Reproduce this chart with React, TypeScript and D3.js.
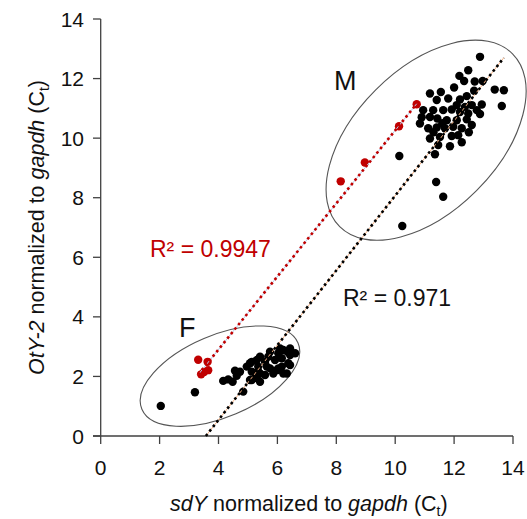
import React from "react";
import * as d3 from "d3";

// ---------- data ----------
const maleBlack: [number, number][] = [
  [12.88, 12.73], [12.48, 12.28], [12.18, 12.09], [12.34, 11.92], [12.97, 11.92],
  [13.38, 11.63], [13.69, 11.61], [13.62, 11.08], [12.68, 11.59], [12.94, 11.13],
  [12.43, 11.41], [11.18, 11.5], [11.55, 11.55], [11.41, 11.28], [11.8, 11.33],
  [12.09, 11.11], [12.37, 11.05], [12.6, 11.11], [12.77, 10.94], [12.88, 10.81],
  [10.95, 10.94], [11.29, 10.94], [11.63, 10.94], [11.92, 10.96], [12.2, 10.88],
  [12.48, 10.83], [10.84, 10.49], [11.18, 10.71], [11.43, 10.66], [11.75, 10.6],
  [12.09, 10.6], [12.43, 10.63], [12.6, 10.44], [11.12, 10.33], [11.41, 10.36],
  [11.69, 10.33], [11.97, 10.38], [12.26, 10.33], [11.18, 9.99], [11.52, 10.04],
  [11.92, 10.07], [12.14, 10.1], [11.46, 9.77], [11.86, 9.73], [12.26, 9.86],
  [11.35, 9.46], [10.14, 9.4], [11.39, 8.53], [11.63, 8.03], [10.24, 7.05],
  [12.0, 11.7], [11.3, 10.2], [12.7, 11.9], [11.6, 10.5], [12.2, 11.3],
  [10.9, 10.7], [12.5, 10.2],
];
const femaleBlack: [number, number][] = [
  [2.04, 1.01], [3.2, 1.47], [4.84, 1.49],
  [4.16, 1.85], [4.33, 1.9], [4.48, 1.82], [4.62, 2.02], [4.56, 2.19], [4.73, 2.16],
  [4.96, 2.33], [5.07, 2.44], [5.13, 2.16], [5.3, 2.55], [5.41, 2.66], [5.35, 2.33],
  [5.41, 2.1], [5.58, 2.49], [5.69, 2.66], [5.75, 2.27], [5.58, 2.05], [5.92, 2.55],
  [6.03, 2.78], [6.2, 2.89], [6.34, 2.83], [6.15, 2.61], [6.15, 2.33], [5.98, 2.21],
  [6.37, 2.44], [6.32, 2.1], [5.13, 1.88], [5.3, 1.94], [5.86, 2.1], [6.43, 2.72],
  [6.43, 2.94], [6.6, 2.78], [6.43, 2.38], [6.2, 2.1], [5.41, 1.82], [5.07, 1.88],
  [5.13, 2.49], [5.75, 2.83], [6.09, 2.94], [5.64, 2.33], [6.03, 2.27], [5.35, 2.16],
];
const redPoints: [number, number][] = [
  [3.31, 2.56], [3.63, 2.49], [3.65, 2.21], [3.41, 2.07], [3.51, 2.15],
  [8.15, 8.55], [8.97, 9.18], [10.13, 10.4], [10.73, 11.14],
];
// trendlines: slope, intercept
const redFit = { slope: 1.226, intercept: -2.0 };
const blackFit = { slope: 1.255, intercept: -4.48 };
const redR2 = "R² = 0.9947";
const blackR2 = "R² = 0.971";
// group ellipses (data units): centre, semi-axes, angle in degrees
const ellipses = [
  { label: "M", cx: 11.05, cy: 9.93, a: 4.15, b: 2.42, angle: 45 },
  { label: "F", cx: 4.05, cy: 2.01, a: 2.88, b: 1.39, angle: 23 },
];
const xTicks = [0, 2, 4, 6, 8, 10, 12, 14];
const yTicks = [0, 2, 4, 6, 8, 10, 12, 14];

const FONT = "'Liberation Sans', Arial, sans-serif";

export default function App() {
  const W = 527, H = 519;
  const x = d3.scaleLinear().domain([0, 14]).range([100.7, 513]);
  const y = d3.scaleLinear().domain([0, 14]).range([436, 19]);
  const kx = x(1) - x(0);

  const allBlack = [...maleBlack, ...femaleBlack];
  const bxMin = d3.min(allBlack, (d) => d[0])!;
  const bxMax = d3.max(allBlack, (d) => d[0])!;
  const bStart = Math.max(bxMin, -blackFit.intercept / blackFit.slope);
  const blackLine = d3.line<number>()
    .x((v) => x(v))
    .y((v) => y(blackFit.slope * v + blackFit.intercept))([bStart, bxMax]);
  const rxMin = d3.min(redPoints, (d) => d[0])!;
  const rxMax = d3.max(redPoints, (d) => d[0])!;
  const redLine = d3.line<number>()
    .x((v) => x(v))
    .y((v) => y(redFit.slope * v + redFit.intercept))([rxMin, rxMax]);

  const axisColor = "#404040";
  return (
    <svg width={W} height={H} style={{ position: "absolute", left: 0, top: 0, background: "#fff" }}
      fontFamily={FONT}>
      {/* axes */}
      <line x1={93} x2={x(14)} y1={y(0)} y2={y(0)} stroke={axisColor} strokeWidth={1.3} />
      <line x1={x(0)} x2={x(0)} y1={y(14)} y2={y(0)} stroke={axisColor} strokeWidth={1.3} />
      {yTicks.map((t) => (
        <g key={"y" + t}>
          <line x1={93} x2={x(0)} y1={y(t)} y2={y(t)} stroke={axisColor} strokeWidth={1.3} />
          <text x={84} y={y(t)} dy="0.36em" textAnchor="end" fontSize={21} fill="#111">{t}</text>
        </g>
      ))}
      {xTicks.map((t) => (
        <g key={"x" + t}>
          <line x1={x(t)} x2={x(t)} y1={y(0)} y2={y(0) + 8} stroke={axisColor} strokeWidth={1.3} />
          <text x={x(t)} y={475} textAnchor="middle" fontSize={21} fill="#111">{t}</text>
        </g>
      ))}
      {/* axis titles */}
      <text x={(x(0) + x(14)) / 2 + 2} y={511} textAnchor="middle" fontSize={21.5} fill="#111">
        <tspan fontStyle="italic">sdY</tspan> normalized to <tspan fontStyle="italic">gapdh</tspan> (C
        <tspan fontSize={14} dy={5}>t</tspan><tspan dy={-5}>)</tspan>
      </text>
      <text transform={`translate(44,${(y(0) + y(14)) / 2}) rotate(-90)`} textAnchor="middle" fontSize={21.5} fill="#111">
        <tspan fontStyle="italic">OtY-2</tspan> normalized to <tspan fontStyle="italic">gapdh</tspan> (C
        <tspan fontSize={14} dy={5}>t</tspan><tspan dy={-5}>)</tspan>
      </text>

      {/* ellipses */}
      {ellipses.map((e) => (
        <ellipse key={e.label} cx={0} cy={0} rx={e.a * kx} ry={e.b * kx}
          transform={`translate(${x(e.cx)},${y(e.cy)}) rotate(${-e.angle})`}
          fill="none" stroke="#555" strokeWidth={1.1} />
      ))}

      {/* points */}
      {allBlack.map((d, i) => (
        <circle key={"b" + i} cx={x(d[0])} cy={y(d[1])} r={4.2} fill="#000" />
      ))}
      {redPoints.map((d, i) => (
        <circle key={"r" + i} cx={x(d[0])} cy={y(d[1])} r={4.2} fill="#C00000" />
      ))}

      {/* trendlines */}
      <path d={blackLine!} stroke="#f4b183" strokeWidth={1} fill="none" />
      <path d={blackLine!} stroke="#000" strokeWidth={2.6} strokeDasharray="2.6,3.2" fill="none" />
      <path d={redLine!} stroke="#b4c7e7" strokeWidth={1} fill="none" />
      <path d={redLine!} stroke="#C00000" strokeWidth={2.6} strokeDasharray="2.6,3.2" fill="none" />

      {/* labels */}
      <text x={334} y={90} fontSize={27} fill="#111">M</text>
      <text x={179} y={337} fontSize={27} fill="#111">F</text>
      <text x={150} y={257} fontSize={23} fill="#C00000">{redR2}</text>
      <text x={343} y={306} fontSize={23} fill="#111">{blackR2}</text>
    </svg>
  );
}
